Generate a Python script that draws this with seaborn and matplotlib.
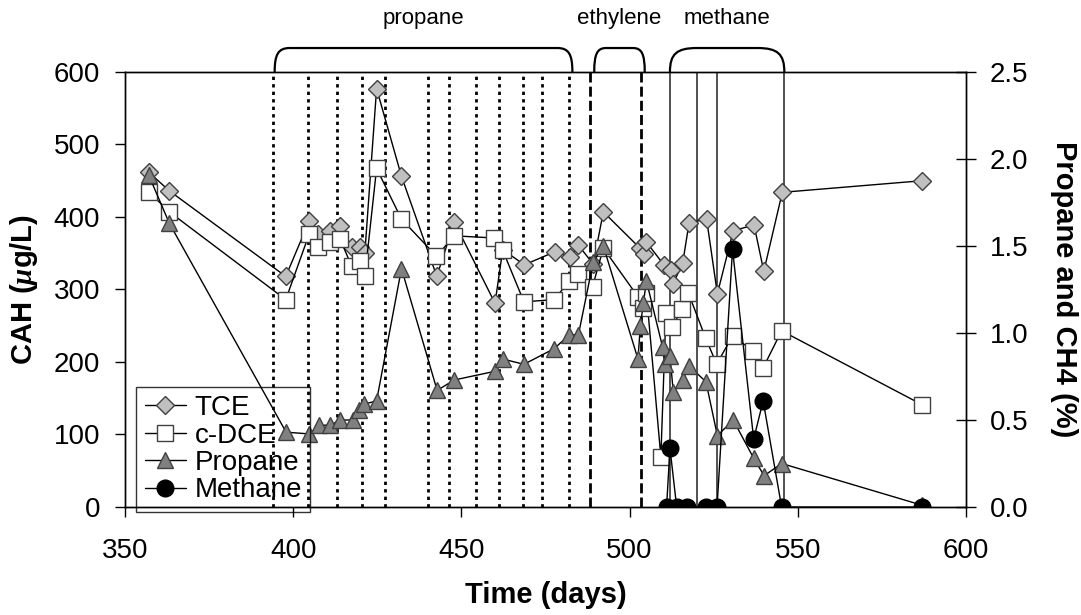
import matplotlib
matplotlib.use("Agg")
import matplotlib.pyplot as plt
import matplotlib.transforms as mtransforms
from matplotlib.path import Path
from matplotlib.patches import PathPatch
import seaborn as sns

# --- data ---
tce_day = [357, 363.2, 397.8, 404.8, 407.5, 411, 414, 417.4, 419.9, 421.3, 424.8,
           432.2, 442.7, 447.9, 460, 462.3, 468.7, 477.8, 482.3, 484.8, 489.2,
           492.2, 503.1, 504.2, 504.9, 510.2, 512.3, 513, 515.8, 517.7, 522.9,
           526.1, 530.8, 537, 539.9, 545.4, 587]
tce = [462, 436, 318, 395, 377, 380, 388, 358, 359, 350, 577,
       456, 318, 393, 281, 355, 334, 352, 345, 361, 335,
       407, 357, 349, 366, 334, 327, 308, 337, 392, 397,
       294, 381, 389, 325, 434, 450]

dce_day = [357, 363.2, 397.8, 404.8, 407.5, 411, 414, 417.4, 419.9, 421.3, 424.8,
           432.2, 442.6, 447.9, 459.8, 462.3, 468.6, 477.6, 482.1, 484.6, 489,
           492.2, 502.5, 504, 505, 509.3, 510.8, 512.7, 515.5, 517.5, 522.6,
           525.9, 530.6, 536.8, 539.7, 545.2, 587]
dce = [435, 407, 286, 377, 359, 366, 369, 332, 339, 318, 467,
       397, 346, 374, 371, 354, 283, 286, 312, 322, 304,
       357, 290, 274, 295, 69, 267, 248, 273, 295, 233,
       197, 236, 215, 192, 243, 141]

propane_day = [357, 363.2, 397.9, 404.8, 407.8, 411, 414, 417.9, 419.6, 421, 424.8,
               432.2, 442.8, 447.9, 460, 462.4, 468.6, 477.6, 482.1, 484.8, 489.2,
               492.2, 502.5, 503.2, 504.1, 505, 509.8, 510.5, 512, 513, 515.8,
               517.7, 522.7, 526.1, 530.8, 536.9, 540, 545.2, 587]
propane = [1.91, 1.63, 0.43, 0.42, 0.47, 0.47, 0.50, 0.50, 0.56, 0.59, 0.61,
           1.37, 0.67, 0.73, 0.78, 0.85, 0.82, 0.91, 0.99, 0.99, 1.41,
           1.50, 0.85, 1.04, 1.17, 1.30, 0.92, 0.82, 0.87, 0.66, 0.73,
           0.81, 0.72, 0.41, 0.50, 0.28, 0.18, 0.25, 0.01]

methane_day = [511, 512, 514, 517, 522.7, 526, 530.6, 536.9, 539.7, 545.2, 587]
methane = [0, 0.34, 0, 0, 0, 0, 1.48, 0.39, 0.61, 0, 0]

# substrate feeding events (vertical lines) and phase brackets
propane_feeds = [394.1, 404.5, 413.1, 420.5, 427.3, 440.2, 446.4, 454.3, 461.2,
                 468.4, 474, 482.1]
ethylene_feeds = [488.2, 503.4]
methane_feeds = [512, 519.9, 526.1, 545.9]
phase_names = ["propane", "ethylene", "methane"]
phase_start = [394.5, 489.5, 512]
phase_end = [483, 504.5, 546]
phase_round = [4.5, 3.5, 8]

sns.set_style("ticks")
plt.rcParams["font.family"] = ["Liberation Sans", "DejaVu Sans"]
plt.rcParams["mathtext.fontset"] = "custom"
plt.rcParams["mathtext.it"] = "Liberation Serif:italic:bold"
plt.rcParams["text.color"] = "black"
plt.rcParams["axes.labelcolor"] = "black"

fig, ax = plt.subplots(figsize=(10.81, 6.15), dpi=100)
fig.subplots_adjust(left=0.1156, right=0.8936, top=0.883, bottom=0.1756)
ax2 = ax.twinx()

for d in propane_feeds:
    ax.axvline(d, color="black", lw=2, ls=(0, (1.2, 1.5)), zorder=1)
for d in ethylene_feeds:
    ax.axvline(d, color="black", lw=2, ls=(0, (3.6, 1.5)), zorder=1)
for d in methane_feeds:
    ax.axvline(d, color="#333333", lw=1.2, zorder=1)

common = dict(color="black", lw=1, estimator=None, sort=False, legend=False)
sns.lineplot(x=tce_day, y=tce, ax=ax, marker="D", markersize=9,
             markerfacecolor="#C0C0C0", markeredgecolor="#404040",
             markeredgewidth=1, zorder=3, **common)
h_tce = ax.lines[-1]
sns.lineplot(x=dce_day, y=dce, ax=ax, marker="s", markersize=12,
             markerfacecolor="white", markeredgecolor="#404040",
             markeredgewidth=1, zorder=4, **common)
h_dce = ax.lines[-1]
sns.lineplot(x=propane_day, y=propane, ax=ax2, marker="^", markersize=12,
             markerfacecolor="#808080", markeredgecolor="#404040",
             markeredgewidth=1, zorder=3, **common)
h_pro = ax2.lines[-1]
sns.lineplot(x=methane_day, y=methane, ax=ax2, marker="o", markersize=12,
             markerfacecolor="black", markeredgecolor="black",
             markeredgewidth=1, zorder=4, **common)
h_met = ax2.lines[-1]

ax.set_xlim(350, 600)
ax.set_ylim(0, 600)
ax2.set_ylim(0, 2.5)
ax.set_xticks(range(350, 601, 50))
ax.set_yticks(range(0, 601, 100))
ax2.set_yticks([0, 0.5, 1.0, 1.5, 2.0, 2.5])
ax2.set_yticklabels(["%.1f" % v for v in [0, 0.5, 1.0, 1.5, 2.0, 2.5]])

for a in (ax, ax2):
    for s in a.spines.values():
        s.set_visible(True)
        s.set_color("black")
        s.set_linewidth(1)
    a.grid(False)
ax.tick_params(axis="y", direction="out", length=7, width=1, pad=11,
               labelsize=20, colors="black")
ax.tick_params(axis="x", direction="out", length=7, width=1, pad=15,
               labelsize=20, colors="black")
ax2.tick_params(axis="y", direction="inout", length=14, width=1, pad=10,
                labelsize=20, colors="black")

ax.set_xlabel("Time (days)", fontsize=21, fontweight="bold")
ax.set_ylabel("CAH ($\\mu$g/L)", fontsize=21, fontweight="bold")
ax2.set_ylabel("Propane and CH4 (%)", fontsize=21, fontweight="bold",
               rotation=270, va="bottom")
ax.xaxis.set_label_coords(0.5, -0.17)
ax.yaxis.set_label_coords(-0.101, 0.5)
ax2.yaxis.set_label_coords(1.1, 0.5)

# phase brackets above the plot
trans = mtransforms.blended_transform_factory(ax.transData, ax.transAxes)
h = 0.055
for name, x0, x1, r in zip(phase_names, phase_start, phase_end, phase_round):
    verts = [(x0, 1.0), (x0, 1 + h * 0.75), (x0 + r * 0.25, 1 + h), (x0 + r, 1 + h),
             (x1 - r, 1 + h),
             (x1 - r * 0.25, 1 + h), (x1, 1 + h * 0.75), (x1, 1.0)]
    codes = [Path.MOVETO, Path.CURVE4, Path.CURVE4, Path.CURVE4, Path.LINETO,
             Path.CURVE4, Path.CURVE4, Path.CURVE4]
    ax.add_patch(PathPatch(Path(verts, codes), transform=trans, fill=False,
                           lw=1.6, color="black", clip_on=False))
    ax.text((x0 + x1) / 2, 1.124, name, transform=trans, ha="center",
            va="center", fontsize=16, color="black")

leg = fig.legend([h_tce, h_dce, h_pro, h_met], ["TCE", "c-DCE", "Propane", "Methane"],
                 loc="upper left", bbox_to_anchor=(0.126, 0.371), fontsize=20,
                 frameon=True, fancybox=False, facecolor="none", edgecolor="black",
                 handlelength=1.5, handletextpad=0.3, labelspacing=0.05,
                 borderpad=0.3, borderaxespad=0, labelcolor="black")
leg.get_frame().set_linewidth(1)

fig.savefig("out.png", dpi=100)
